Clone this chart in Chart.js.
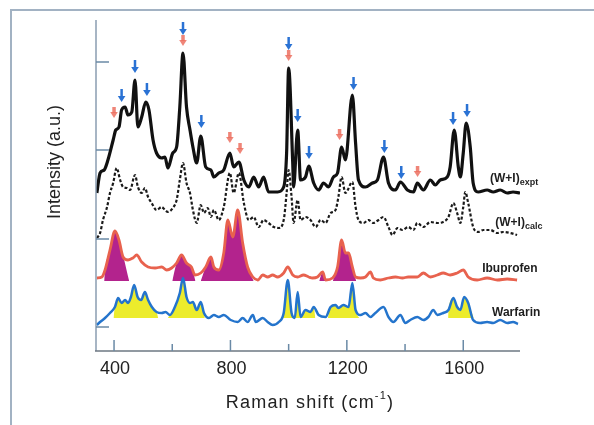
<!DOCTYPE html>
<html>
<head>
<meta charset="utf-8">
<script src="https://cdn.jsdelivr.net/npm/chart.js@4.4.1/dist/chart.umd.min.js"></script>
<style>
  body { margin: 0; background: #fff; }
  #frame { position: absolute; left: 10px; top: 9px; right: 0; bottom: 0; border-left: 2px solid #a2b2c3; border-top: 2px solid #a2b2c3; }
  #myChart { position: absolute; left: 0; top: 0; }
</style>
</head>
<body>
<div id="frame"></div>
<canvas id="myChart" width="594" height="425"></canvas>
<script>
// Raman shift (cm-1) / stacked intensity (a.u.)
var exptX = [341,352,366,379,397,406,417,426,438,448,461,472,482,495,509,520,534,546,564,575,585,602,615,626,637,649,661,671,684,698,715,733,743,760,777,798,811,829,846,863,880,897,914,931,962,983,993,1000,1014,1017,1031,1041,1058,1069,1086,1103,1120,1137,1154,1168,1182,1195,1219,1230,1240,1264,1288,1305,1326,1343,1367,1384,1408,1429,1442,1463,1487,1504,1521,1545,1555,1569,1583,1590,1600,1610,1624,1634,1651,1682,1703,1727,1751,1771,1795];
var exptY = [158,178,181,191,211,221,224,241,244,236,239,271,224,234,249,241,211,198,193,194,183,198,204,244,298,244,221,204,188,215,184,181,174,178,181,198,184,189,171,164,174,164,174,159,159,164,198,283,188,164,221,171,174,185,168,161,168,164,174,178,204,191,256,208,171,164,168,171,194,168,161,169,161,159,168,161,171,166,171,174,184,221,184,174,198,228,204,168,159,161,159,161,158,159,158];

var calcX = [341,352,362,376,386,397,409,421,431,444,455,472,482,495,506,517,529,546,564,575,585,602,615,626,637,649,661,671,684,698,709,722,733,743,760,777,798,811,829,846,863,880,897,914,931,949,966,983,993,1000,1010,1017,1031,1041,1058,1075,1093,1110,1127,1144,1161,1171,1182,1195,1219,1230,1240,1257,1274,1291,1309,1326,1343,1357,1374,1391,1411,1429,1442,1463,1487,1511,1531,1549,1566,1579,1590,1600,1607,1617,1634,1651,1669,1693,1717,1737,1761,1785];
var calcY = [113,118,131,144,158,168,183,171,164,163,161,176,164,158,163,154,148,141,144,141,139,143,151,171,188,168,158,141,128,146,138,143,134,141,131,144,178,158,178,148,131,134,124,131,128,124,123,131,158,181,154,128,151,131,134,131,124,131,128,138,141,154,174,158,169,144,131,128,131,128,131,134,124,116,123,121,124,121,128,124,129,128,129,134,148,138,128,144,159,148,124,119,121,121,118,119,118,116];

var ibuX = [341,358,369,386,403,417,431,448,465,478,495,517,541,564,581,598,615,632,649,666,678,698,715,733,743,760,777,791,808,825,842,859,877,894,911,928,945,962,983,997,1014,1031,1051,1069,1082,1099,1117,1127,1151,1168,1182,1195,1206,1219,1230,1247,1264,1281,1291,1315,1343,1367,1391,1411,1442,1463,1487,1511,1531,1555,1579,1600,1617,1648,1682,1717,1751,1785];
var ibuY = [73,74,81,101,120,111,94,91,93,96,89,84,83,84,81,83,88,96,88,84,76,78,84,94,84,81,98,131,114,141,108,84,74,71,76,74,76,74,78,84,76,74,76,74,73,74,79,71,73,84,111,98,98,84,74,73,74,79,73,71,73,74,73,74,74,78,74,76,78,76,78,81,74,71,73,71,72,71];

var warX = [341,352,369,386,403,414,426,438,448,458,469,481,493,506,517,530,546,564,577,592,609,626,637,649,661,671,684,698,709,726,743,760,777,801,825,842,859,877,887,911,928,945,966,983,997,1010,1021,1031,1041,1058,1075,1086,1103,1127,1144,1161,1171,1188,1206,1219,1230,1247,1264,1281,1298,1326,1343,1360,1384,1401,1418,1442,1463,1480,1497,1511,1531,1549,1566,1579,1590,1603,1617,1634,1658,1682,1703,1727,1751,1771,1788];
var warY = [26,29,33,38,44,53,48,51,48,54,66,54,51,59,51,44,39,38,39,36,44,58,73,54,48,49,41,49,38,33,36,34,36,31,29,33,29,36,29,33,29,26,29,38,71,38,33,59,34,41,39,44,36,34,44,46,43,46,44,68,41,36,38,34,38,44,34,29,36,28,31,34,31,34,41,36,38,41,53,44,41,54,48,31,28,29,28,31,28,29,27];

// shaded bands: [start at base, last curve point, end at base]
var ibuBands = [[366,417,452],[600,666,680],[698,859,880],[1105,1117,1127],[1152,1219,1232]];
var warBands = [[398,546,552],[585,698,712],[978,1086,1092],[1135,1230,1242],[1548,1617,1636]];
var ibuBase = 70;
var warBase = 33;

// peak markers (tip position)
var blueArrowX = [426,472,513,637,700,1000,1031,1070,1223,1329,1387,1565,1613];
var blueArrowY = [249,278,255,316,223,301,229,192,261,198,172,226,234];
var redArrowX = [400,637,798,833,1000,1175,1443];
var redArrowY = [233,305,208,197,290,211,174];

var xMajor = [400, 800, 1200, 1600];
var xMinor = [600, 1000, 1400];
var yTicks = [24, 112, 201, 289];

var traceNames = ["(W+I)", "(W+I)", "Ibuprofen", "Warfarin"];
var traceSubs = ["expt", "calc", "", ""];
var nameX = [1692, 1710, 1665, 1699];
var nameY = [172, 128, 82, 38];

function pts(xs, ys) {
  return xs.map((v, i) => ({ x: v, y: ys[i] }));
}

function bandPts(xs, ys, r, base) {
  var p = [{ x: r[0], y: base }];
  xs.forEach((v, i) => {
    if (v > r[0] && v <= r[1]) p.push({ x: v, y: ys[i] });
  });
  p.push({ x: r[2], y: base });
  return p;
}

function arrow(ctx, px, py, len, w, color) {
  ctx.strokeStyle = color;
  ctx.fillStyle = color;
  ctx.lineWidth = w;
  ctx.beginPath();
  ctx.moveTo(px, py - len);
  ctx.lineTo(px, py - 5);
  ctx.stroke();
  ctx.beginPath();
  ctx.moveTo(px - 3.8, py - 6);
  ctx.lineTo(px + 3.8, py - 6);
  ctx.lineTo(px, py);
  ctx.closePath();
  ctx.fill();
}

const decor = {
  id: "decor",
  afterDatasetsDraw(chart) {
    const ctx = chart.ctx;
    const a = chart.chartArea;
    const x = chart.scales.x;
    const y = chart.scales.y;
    ctx.save();

    // axis lines
    ctx.lineWidth = 1.5;
    ctx.strokeStyle = "#8a9cb0";
    ctx.beginPath();
    ctx.moveTo(a.left, a.top);
    ctx.lineTo(a.left, a.bottom);
    ctx.stroke();
    ctx.strokeStyle = "#6d7782";
    ctx.beginPath();
    ctx.moveTo(a.left - 1, a.bottom);
    ctx.lineTo(a.right, a.bottom);
    ctx.stroke();

    // inward ticks
    ctx.strokeStyle = "#6a8aa6";
    yTicks.forEach((v) => {
      var py = y.getPixelForValue(v);
      ctx.beginPath();
      ctx.moveTo(a.left, py);
      ctx.lineTo(a.left + 13, py);
      ctx.stroke();
    });
    xMajor.forEach((v) => {
      var px = x.getPixelForValue(v);
      ctx.beginPath();
      ctx.moveTo(px, a.bottom);
      ctx.lineTo(px, a.bottom - 11);
      ctx.stroke();
    });
    xMinor.forEach((v) => {
      var px = x.getPixelForValue(v);
      ctx.beginPath();
      ctx.moveTo(px, a.bottom);
      ctx.lineTo(px, a.bottom - 7);
      ctx.stroke();
    });

    // tick labels
    ctx.fillStyle = "#222";
    ctx.font = "18px 'Liberation Sans', Arial, sans-serif";
    ctx.textAlign = "center";
    ctx.textBaseline = "middle";
    xMajor.forEach((v) => {
      ctx.fillText(String(v), x.getPixelForValue(v) + 1, a.bottom + 18);
    });

    // x title with superscript
    ctx.letterSpacing = "1.2px";
    var t1 = "Raman shift (cm";
    var w1 = ctx.measureText(t1).width;
    ctx.font = "11px 'Liberation Sans', Arial, sans-serif";
    var w2 = ctx.measureText("-1").width;
    ctx.font = "18px 'Liberation Sans', Arial, sans-serif";
    var w3 = ctx.measureText(")").width;
    var sx = 310 - (w1 + w2 + w3) / 2;
    ctx.textAlign = "left";
    ctx.textBaseline = "alphabetic";
    ctx.fillText(t1, sx, a.bottom + 57);
    ctx.font = "11px 'Liberation Sans', Arial, sans-serif";
    ctx.fillText("-1", sx + w1, a.bottom + 48);
    ctx.font = "18px 'Liberation Sans', Arial, sans-serif";
    ctx.fillText(")", sx + w1 + w2, a.bottom + 57);
    ctx.letterSpacing = "0px";

    // y title
    ctx.save();
    ctx.translate(55, 162);
    ctx.rotate(-Math.PI / 2);
    ctx.textAlign = "center";
    ctx.textBaseline = "middle";
    ctx.fillText("Intensity (a.u.)", 0, 0);
    ctx.restore();

    // peak arrows
    redArrowX.forEach((v, i) => {
      arrow(ctx, x.getPixelForValue(v), y.getPixelForValue(redArrowY[i]), 11, 3.5, "rgba(236,112,96,0.85)");
    });
    blueArrowX.forEach((v, i) => {
      arrow(ctx, x.getPixelForValue(v), y.getPixelForValue(blueArrowY[i]), 13, 2.5, "#2a72d4");
    });

    // trace names
    traceNames.forEach((n, i) => {
      var px = x.getPixelForValue(nameX[i]);
      var py = y.getPixelForValue(nameY[i]);
      ctx.fillStyle = "#1e1e1e";
      ctx.font = "bold 12px 'Liberation Sans', Arial, sans-serif";
      ctx.textAlign = "left";
      ctx.textBaseline = "middle";
      ctx.fillText(n, px, py);
      if (traceSubs[i]) {
        var w = ctx.measureText(n).width;
        ctx.font = "bold 9px 'Liberation Sans', Arial, sans-serif";
        ctx.fillText(traceSubs[i], px + w, py + 4);
      }
    });
    ctx.restore();
  }
};

var datasets = [
  { data: pts(exptX, exptY), borderColor: "#111", borderWidth: 3.2, order: 1 },
  { data: pts(calcX, calcY), borderColor: "#1a1a1a", borderWidth: 2.2, borderDash: [3, 2], order: 1 },
  { data: pts(ibuX, ibuY), borderColor: "#e8624e", borderWidth: 2.8, order: 1 },
  { data: pts(warX, warY), borderColor: "#2474cc", borderWidth: 2.5, order: 1 }
];
ibuBands.forEach((r) => {
  datasets.push({ data: bandPts(ibuX, ibuY, r, ibuBase), borderWidth: 0, backgroundColor: "#b3238d", fill: { value: ibuBase }, order: 5 });
});
warBands.forEach((r) => {
  datasets.push({ data: bandPts(warX, warY, r, warBase), borderWidth: 0, backgroundColor: "#ecec2c", fill: { value: warBase }, order: 5 });
});

new Chart(document.getElementById("myChart"), {
  type: "line",
  data: { datasets: datasets },
  options: {
    responsive: false,
    animation: false,
    devicePixelRatio: 1,
    layout: { padding: { left: 96, top: 20, right: 74, bottom: 74 } },
    elements: {
      point: { radius: 0 },
      line: { cubicInterpolationMode: "monotone" }
    },
    plugins: { legend: { display: false }, tooltip: { enabled: false } },
    scales: {
      x: { type: "linear", min: 338, max: 1795, display: false },
      y: { type: "linear", min: 0, max: 331, display: false }
    }
  },
  plugins: [decor]
});
</script>
</body>
</html>
